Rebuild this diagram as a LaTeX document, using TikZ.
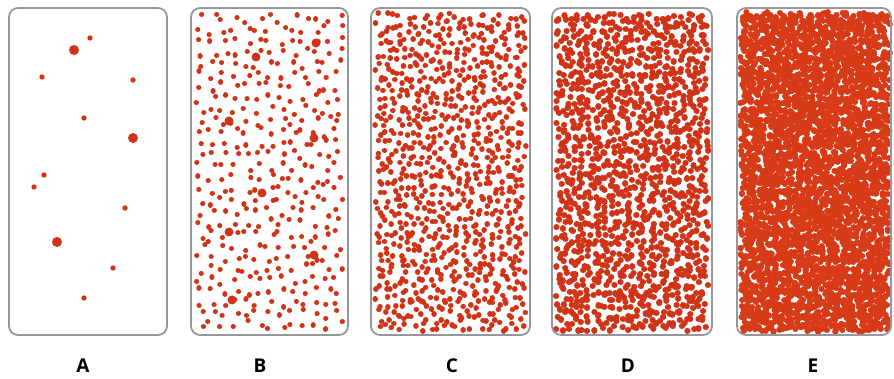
\documentclass[tikz,border=0pt]{standalone}
\usepackage{fontspec}
\setmainfont{Open Sans}
\definecolor{dotc}{RGB}{208,52,24}
\definecolor{dotd}{RGB}{214,58,22}
\definecolor{boxc}{RGB}{150,150,155}
\tikzset{
  panel/.style={draw=boxc,line width=1.8pt,rounded corners=9pt},
  lbl/.style={font=\fontsize{19}{19}\selectfont\bfseries,anchor=center},
  dotline/.style={line cap=round,line width=#1},
}
% jittered grid of dots: x0, x1, cols, rows, jitter, diameter, colour
\newcommand\jitgrid[7]{%
  \foreach \rr in {1,...,#4}{%
    \draw[dotline=#6,draw=#7] \foreach \cc in {1,...,#3}{({#1+4+(\cc-0.5)/#3*(#2-#1-8)+(rnd-0.5)*2*#5},{13+(\rr-0.5)/#4*318+(rnd-0.5)*2*#5}) -- ++(0.01,0)};
  }}
\begin{document}
\begin{tikzpicture}[x=1pt,y=-1pt]
\useasboundingbox[fill=white] (0,0) rectangle (894,379);
\pgfmathsetseed{12345}
% A
\foreach \p/\r in {{(74,50)}/5,{(90,38)}/2.7,{(42,77)}/2.7,{(133,80)}/2.7,{(84,118)}/2.7,{(133,138)}/5,{(44,175)}/2.7,{(34,187)}/2.7,{(125,208)}/2.7,{(57,242)}/5,{(113,268)}/2.7,{(84,298)}/2.7}
  {\fill[dotc] \p circle[radius=\r];}
% B
\jitgrid{191}{348}{13}{28}{4.8}{5.2pt}{dotc}
\foreach \p in {(256,57),(316,43),(229,121),(314,138),(262,193),(229,232),(314,255),(232,300)}
  {\fill[dotc] \p circle[radius=4.5];}
% C
\jitgrid{371}{530}{21}{43}{3.8}{5.6pt}{dotc}
% D
\jitgrid{552}{712}{25}{51}{3.3}{6.3pt}{dotc}
% E
\jitgrid{737}{893}{30}{62}{3.2}{6.4pt}{dotd}
\jitgrid{737}{893}{22}{46}{4}{6pt}{dotd}
\jitgrid{737}{893}{15}{31}{5}{6pt}{dotd}
\draw[panel] (9,8) rectangle (167,335);
\draw[panel] (191,8) rectangle (348,335);
\draw[panel] (371,8) rectangle (530,335);
\draw[panel] (552,8) rectangle (712,335);
\draw[panel] (737,8) rectangle (891,335);
\node[lbl] (la) at (83,366) {A};
\node[lbl] (lb) at (260,366) {B};
\node[lbl] (lc) at (452,366) {C};
\node[lbl] (ld) at (628,366) {D};
\node[lbl] (le) at (813,366) {E};
\end{tikzpicture}
\end{document}
